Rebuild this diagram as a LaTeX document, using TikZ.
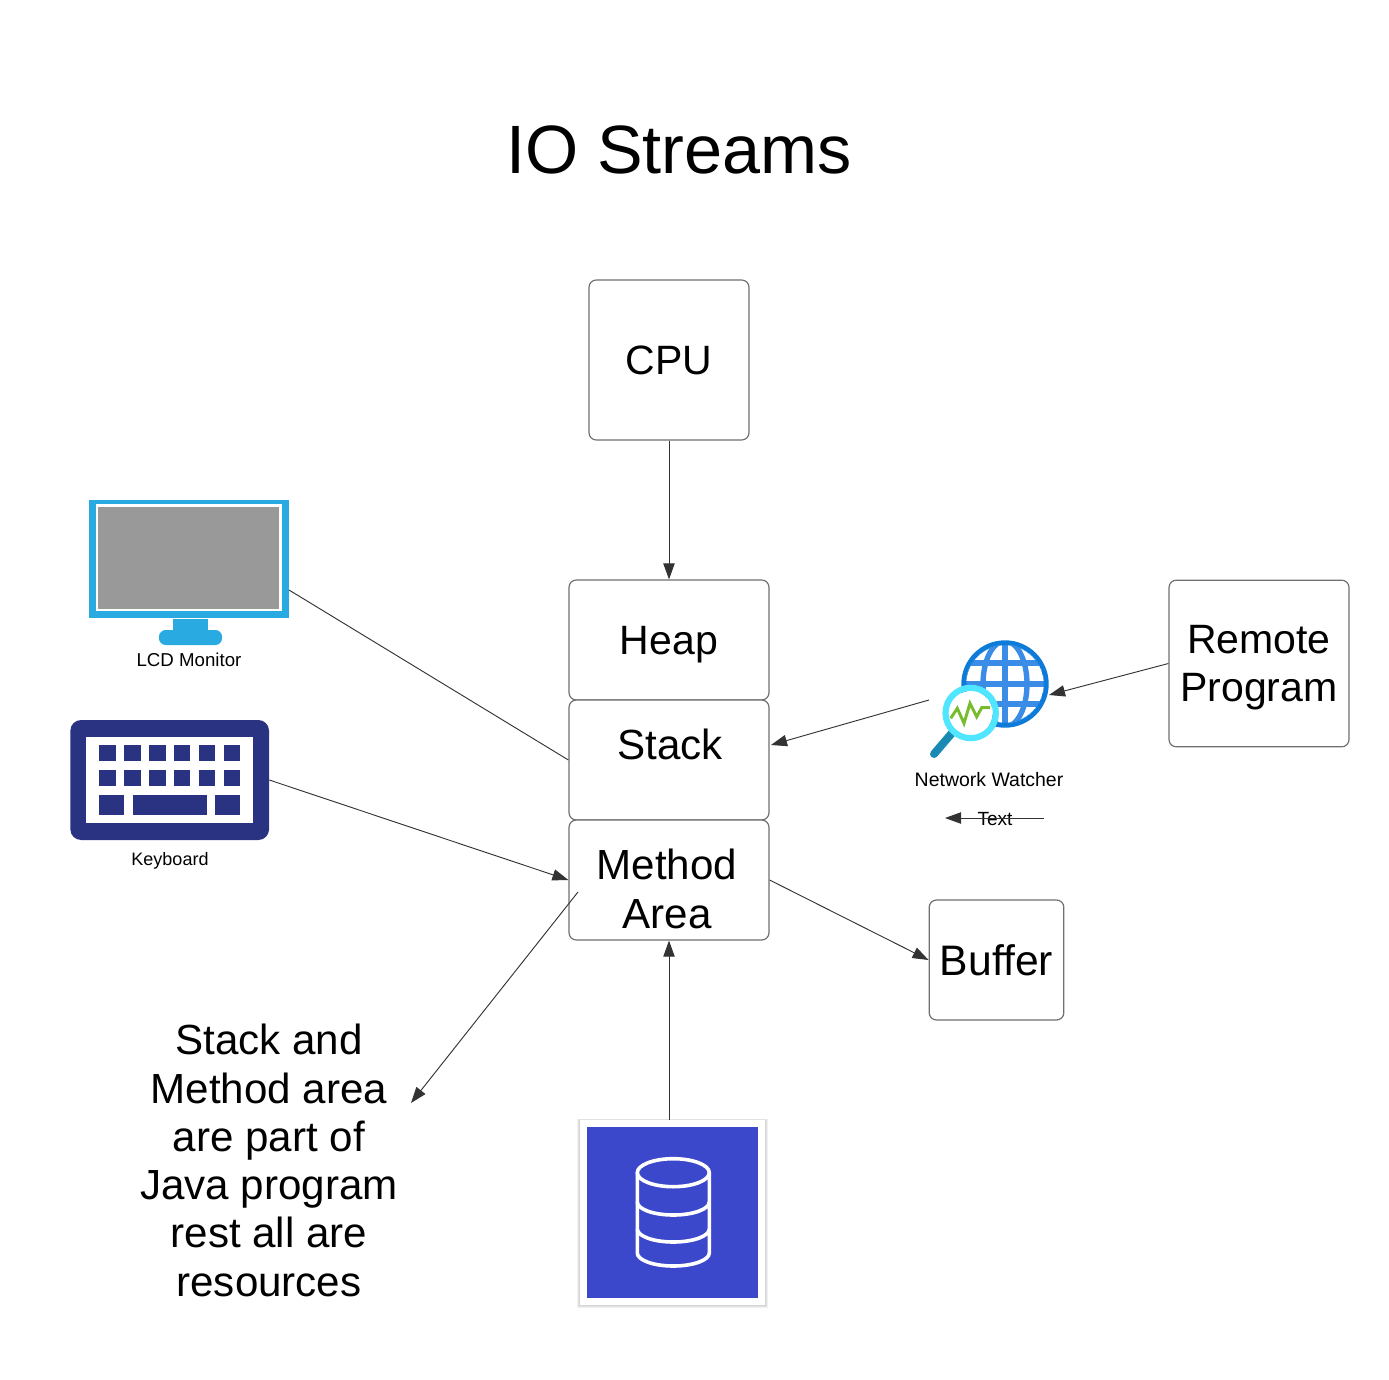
\documentclass[tikz,border=0pt]{standalone}
\usepackage{fontspec}
\setmainfont{Liberation Sans}
\usepackage{tikz}
\usetikzlibrary{arrows.meta}

\definecolor{linegray}{HTML}{333333}
\definecolor{boxgray}{HTML}{707070}
\definecolor{screenblue}{HTML}{29ABE2}
\definecolor{screengray}{HTML}{999999}
\definecolor{keysblue}{HTML}{2A3282}
\definecolor{dbblue}{HTML}{3B48CC}
\definecolor{globeblue}{HTML}{0F7BD8}
\definecolor{globelight}{HTML}{3A8CE6}
\definecolor{lenscyan}{HTML}{50E6FF}
\definecolor{lensgreen}{HTML}{76BC2D}
\definecolor{handleblue}{HTML}{198AB3}

\tikzset{
    membox/.style={draw=boxgray, line width=0.9pt, rounded corners=5.5pt, fill=white,
        minimum width=150pt, minimum height=90pt, inner sep=0pt, text depth=0pt,
        align=center, font=\fontsize{30.75pt}{36pt}\selectfont},
    bigtext/.style={align=center, inner sep=0pt, font=\fontsize{31.6pt}{36.2pt}\selectfont},
    smalltext/.style={inner sep=0pt, font=\fontsize{13.5pt}{16pt}\selectfont},
    link/.style={draw=linegray, line width=0.7pt},
    arrowlink/.style={link, -{Triangle[length=12pt,width=8.5pt]}, color=linegray},
    keycap/.style={fill=keysblue},
}

\begin{document}
\begin{tikzpicture}[x=0.75pt,y=-0.75pt]
    \useasboundingbox (0,0) rectangle (1389,1380);

    \node[inner sep=0pt, font=\fontsize{51.3pt}{60pt}\selectfont] (title) at (679,150) {IO Streams};

    % memory boxes
    \node[membox, minimum width=120pt, minimum height=120pt] (cpu) at (669,360) {CPU};
    \node[membox] (heap) at (669,640) {Heap};
    \node[membox] (stack) at (669,760) {};
    \node[bigtext] (stacktext) at (670,744) {Stack};
    \node[membox] (method) at (669,880) {};
    \node[bigtext] (methodtext) at (667,889) {Method\\Area};
    \node[membox, minimum width=135pt, minimum height=125pt] (remote) at (1259,663.5) {Remote\\Program};
    \node[membox, minimum width=101pt, font=\fontsize{32pt}{36pt}\selectfont] (buffer) at (996.5,960) {Buffer};

    \node[bigtext] (note) at (269,1160.5) {Stack and\\Method area\\are part of\\Java program\\rest all are\\resources};

    % monitor
    \fill[screenblue, rounded corners=5pt] (159,630) rectangle (222,645);
    \fill[screenblue] (173,619) rectangle (208,632);
    \node[fill=screenblue, minimum width=150pt, minimum height=88.5pt, inner sep=0pt] (monitor) at (189,559) {};
    \fill[white] (95.5,504) rectangle (282,611);
    \fill[screengray] (98,506.7) rectangle (278.5,608.7);
    \node[smalltext, font=\fontsize{14pt}{16pt}\selectfont] (monitortext) at (189,660) {LCD Monitor};
    \coordinate (monitorport) at (289,590);

    % keyboard
    \node[fill=keysblue, rounded corners=8pt, minimum width=149pt, minimum height=90pt, inner sep=0pt] (keyboard) at (169.7,780) {};
    \fill[white] (86.3,736.7) rectangle (253,823.3);
    \foreach \keyl/\keyr in {99/116,124/141,149/166,174/190,199/215,224/240} {
        \fill[keycap] (\keyl,745) rectangle (\keyr,761);
        \fill[keycap] (\keyl,770) rectangle (\keyr,786);
    }
    \fill[keycap] (99,795) rectangle (124,815);
    \fill[keycap] (133,795) rectangle (207,815);
    \fill[keycap] (215,795) rectangle (240,815);
    \node[smalltext] (keyboardtext) at (170,861) {Keyboard};

    % network watcher
    \fill[globeblue] (1005,684) circle [radius=43.7];
    \begin{scope}
        \clip (1005,684) circle [radius=39];
        \fill[white] (1005,684) circle [radius=39];
        \draw[globelight, line width=4pt] (1005,630)--(1005,740);
        \draw[globelight, line width=4pt] (950,663)--(1060,663);
        \draw[globelight, line width=4pt] (950,684)--(1060,684);
        \draw[globelight, line width=4pt] (950,704)--(1060,704);
        \draw[globelight, line width=4pt] (1005,684) ellipse [x radius=22, y radius=43];
        \draw[globeblue, line width=3.4pt] (1005,684) circle [radius=41];
    \end{scope}
    \draw[handleblue, line width=6pt, line cap=round] (952,733)--(934,754);
    \fill[white] (970.7,713) circle [radius=22];
    \draw[lenscyan, line width=4.6pt] (970.7,713) circle [radius=25.2];
    \draw[lensgreen, line width=2.2pt] (950.7,718.3)--(957.3,708.3)--(964,723.3)--(970,703.3)--(976.7,716.7)--(981.7,707.7)--(990,707.7);
    \node[smalltext, font=\fontsize{14.6pt}{18pt}\selectfont] (watchertext) at (989,780) {Network Watcher};
    \coordinate (globeport) at (1049,695);
    \coordinate (watcherport) at (929,700);
    \coordinate (stackport) at (771,745);

    % small arrow over the text
    \node[smalltext, font=\fontsize{14.3pt}{16pt}\selectfont] (arrowtext) at (995,819) {Text};
    \coordinate (textfrom) at (1044,818);
    \coordinate (textto) at (945,818);

    % database
    \foreach \blur in {1,2,3} {
        \fill[black, opacity=0.06] (580-\blur,1120-\blur/2) rectangle (765+\blur,1305+\blur);
    }
    \node[fill=white, minimum size=138.75pt, inner sep=0pt] (database) at (672.5,1212.4) {};
    \fill[dbblue] (586.7,1126.7) rectangle (757.7,1297.7);
    \begin{scope}[white, line width=2.7pt]
        \draw (673.3,1172.7) ellipse [x radius=36, y radius=14];
        \draw (637.3,1172.7)--(637.3,1253) .. controls (637.3,1260) and (653,1266) .. (673.3,1266)
            .. controls (693.6,1266) and (709.3,1260) .. (709.3,1253)--(709.3,1172.7);
        \draw (637.3,1202) .. controls (637.3,1209) and (653,1215) .. (673.3,1215)
            .. controls (693.6,1215) and (709.3,1209) .. (709.3,1202);
        \draw (637.3,1229) .. controls (637.3,1236) and (653,1242) .. (673.3,1242)
            .. controls (693.6,1242) and (709.3,1236) .. (709.3,1229);
    \end{scope}

    % note arrow
    \coordinate (notefrom) at (578,892);
    \coordinate (noteto) at (411,1103);

    % connectors
    \draw[arrowlink] (cpu.south)--(heap.north);
    \draw[link] (monitorport)--(stack.west);
    \draw[arrowlink] (keyboard.east)--(method.west);
    \draw[arrowlink] (method.east)--(buffer.west);
    \draw[arrowlink] (database.north -| method.south)--(method.south);
    \draw[arrowlink] (remote.west)--(globeport);
    \draw[arrowlink] (watcherport)--(stackport);
    \draw[arrowlink] (textfrom)--(textto);
    \draw[arrowlink] (notefrom)--(noteto);
\end{tikzpicture}
\end{document}
